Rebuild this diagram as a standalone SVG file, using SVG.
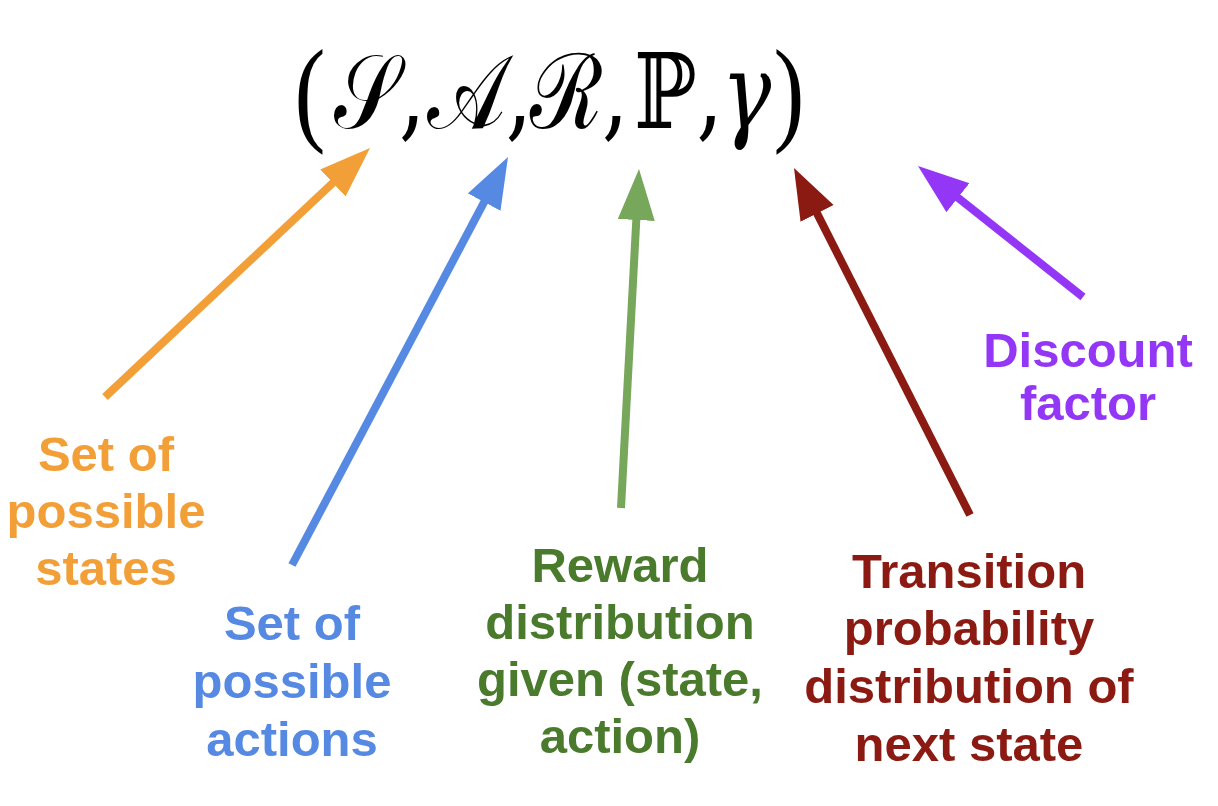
<svg xmlns="http://www.w3.org/2000/svg" width="1218" height="806" viewBox="0 0 1218 806">
<style>
.lbl{font-family:"Liberation Sans",Arial,sans-serif;font-weight:bold;font-size:49px;text-anchor:middle}
.math{font-family:"DejaVu Serif","Liberation Serif",serif;font-size:104px;fill:#000}
.paren{font-family:"Liberation Serif","DejaVu Serif",serif;font-size:116px}
.arr{stroke-width:8;fill:none;stroke-linecap:butt}
</style>
<defs>
<marker id="hO" markerUnits="userSpaceOnUse" markerWidth="52" markerHeight="38" refX="11" refY="18.5" orient="auto"><path d="M0,0 L51,18.5 L0,37 Z" fill="#F29F38"/></marker>
<marker id="hB" markerUnits="userSpaceOnUse" markerWidth="52" markerHeight="38" refX="11" refY="18.5" orient="auto"><path d="M0,0 L51,18.5 L0,37 Z" fill="#5689E2"/></marker>
<marker id="hG" markerUnits="userSpaceOnUse" markerWidth="52" markerHeight="38" refX="11" refY="18.5" orient="auto"><path d="M0,0 L51,18.5 L0,37 Z" fill="#77A75A"/></marker>
<marker id="hR" markerUnits="userSpaceOnUse" markerWidth="52" markerHeight="38" refX="11" refY="18.5" orient="auto"><path d="M0,0 L51,18.5 L0,37 Z" fill="#8B1A12"/></marker>
<marker id="hP" markerUnits="userSpaceOnUse" markerWidth="52" markerHeight="38" refX="11" refY="18.5" orient="auto"><path d="M0,0 L51,18.5 L0,37 Z" fill="#9336F6"/></marker>
</defs>
<rect width="1218" height="806" fill="#fff"/>
<g id="tuple">
<text class="math" transform="scale(0.8,1)" y="128"><tspan class="paren" x="368" y="130">(</tspan><tspan x="418" y="128">𝒮,</tspan><tspan x="534">𝒜,</tspan><tspan x="662">ℛ,</tspan><tspan x="792.5">ℙ,</tspan><tspan x="902" font-style="italic">γ</tspan><tspan class="paren" x="967" y="130">)</tspan></text>
</g>
<g id="connectors">
<line class="arr" x1="105" y1="397" x2="340.85" y2="175.39" stroke="#F29F38" marker-end="url(#hO)"/>
<line class="arr" x1="292" y1="565" x2="489.28" y2="192.36" stroke="#5689E2" marker-end="url(#hB)"/>
<line class="arr" x1="621" y1="508" x2="636.88" y2="208.94" stroke="#77A75A" marker-end="url(#hG)"/>
<line class="arr" x1="970" y1="515" x2="812.09" y2="203.67" stroke="#8B1A12" marker-end="url(#hR)"/>
<line class="arr" x1="1083" y1="297" x2="949.32" y2="190.87" stroke="#9336F6" marker-end="url(#hP)"/>
</g>
<g id="states" fill="#F29F38">
<text class="lbl" x="106" y="471">Set of</text>
<text class="lbl" x="106" y="528">possible</text>
<text class="lbl" x="106" y="585">states</text>
</g>
<g id="actions" fill="#5689E2">
<text class="lbl" x="292" y="640">Set of</text>
<text class="lbl" x="292" y="698">possible</text>
<text class="lbl" x="292" y="756">actions</text>
</g>
<g id="reward" fill="#4A7A2C">
<text class="lbl" x="620" y="582">Reward</text>
<text class="lbl" x="620" y="639">distribution</text>
<text class="lbl" x="620" y="696">given (state,</text>
<text class="lbl" x="620" y="753">action)</text>
</g>
<g id="transition" fill="#8B1A12">
<text class="lbl" x="969" y="588">Transition</text>
<text class="lbl" x="969" y="645">probability</text>
<text class="lbl" x="969" y="703">distribution of</text>
<text class="lbl" x="969" y="761">next state</text>
</g>
<g id="discount" fill="#9336F6">
<text class="lbl" x="1088" y="367">Discount</text>
<text class="lbl" x="1088" y="420">factor</text>
</g>
</svg>
